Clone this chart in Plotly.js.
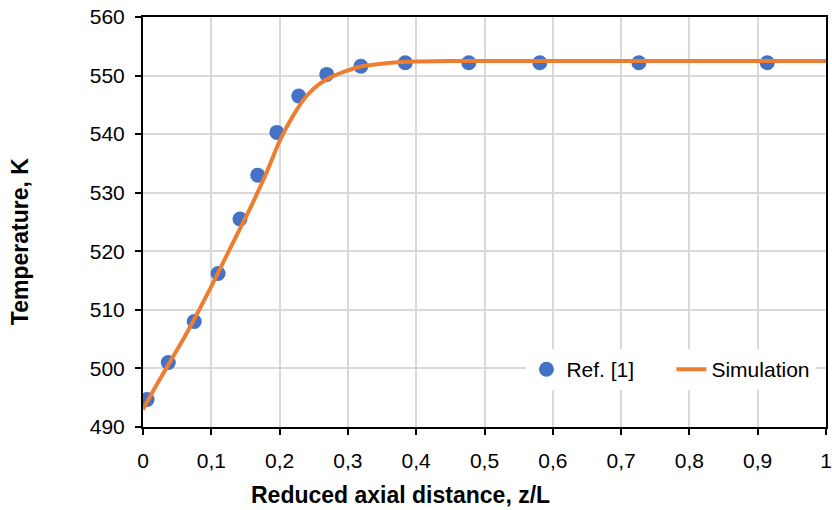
<!DOCTYPE html>
<html><head><meta charset="utf-8">
<script src="https://cdn.plot.ly/plotly-3.0.1.min.js"></script>
<style>html,body{margin:0;padding:0;background:#fff;}#chart{width:832px;height:510px;}</style>
</head><body><div id="chart"></div>
<script>
const refX = [0.006, 0.037, 0.075, 0.110, 0.142, 0.168, 0.196, 0.228, 0.269, 0.319, 0.384, 0.477, 0.581, 0.726, 0.914];
const refT = [494.7, 501.0, 508.0, 516.2, 525.5, 533.0, 540.3, 546.5, 550.2, 551.6, 552.2, 552.2, 552.2, 552.2, 552.2];
const simX = [0, 0.02, 0.04, 0.06, 0.08, 0.10, 0.12, 0.14, 0.16, 0.18, 0.20, 0.22, 0.24, 0.26, 0.28, 0.30, 0.32, 0.34, 0.36, 0.38, 0.40, 0.45, 0.50, 0.60, 0.70, 0.80, 0.90, 1.00];
const simT = [493.0, 497.2, 501.2, 505.2, 509.5, 514.0, 518.7, 523.4, 528.1, 533.2, 538.8, 543.2, 546.6, 548.7, 550.0, 550.9, 551.6, 551.9, 552.15, 552.3, 552.4, 552.5, 552.5, 552.5, 552.5, 552.5, 552.5, 552.5];
const xTitle = "Reduced axial distance, z/L";
const yTitle = "Temperature, K";

const traces = [
  {x: refX, y: refT, type: 'scatter', mode: 'markers', name: 'Ref. [1]',
   marker: {color: '#4472C4', size: 15}},
  {x: simX, y: simT, type: 'scatter', mode: 'lines', name: 'Simulation',
   line: {color: '#ED7D31', width: 4, shape: 'spline', smoothing: 0.6}}
];
const fam = 'Liberation Sans, Arial, sans-serif';
const layout = {
  width: 832, height: 510,
  margin: {l: 143, r: 6, t: 17, b: 83},
  paper_bgcolor: '#fff', plot_bgcolor: '#fff',
  separators: ', ',
  font: {family: fam, size: 21, color: '#000'},
  showlegend: true,
  legend: {orientation: 'h', x: 0.5614, y: 0.14, xanchor: 'left', yanchor: 'middle', entrywidth: 100,
           bgcolor: '#fff', font: {family: fam, size: 21, color: '#000'}},
  xaxis: {range: [0, 1], dtick: 0.1, tick0: 0, showline: true, mirror: true, linecolor: '#000', linewidth: 2,
          ticks: 'outside', ticklen: 6, tickwidth: 2, tickcolor: '#000', ticklabelstandoff: 8,
          showgrid: true, gridcolor: '#d9d9d9', gridwidth: 2, zeroline: false,
          tickfont: {family: fam, size: 21, color: '#000'}},
  yaxis: {range: [490, 560], dtick: 10, showline: true, mirror: true, linecolor: '#000', linewidth: 2,
          ticks: 'outside', ticklen: 6, tickwidth: 2, tickcolor: '#000', ticklabelstandoff: 6,
          showgrid: true, gridcolor: '#d9d9d9', gridwidth: 2, zeroline: false,
          tickfont: {family: fam, size: 21, color: '#000'}},
  annotations: [
    {text: xTitle, xref: 'paper', yref: 'paper', x: 0.3777, y: -0.166, xanchor: 'center', yanchor: 'middle',
     showarrow: false, font: {family: fam, size: 23, weight: 'bold', color: '#000'}},
    {text: yTitle, xref: 'paper', yref: 'paper', x: -0.18, y: 0.451, xanchor: 'center', yanchor: 'middle',
     textangle: -90, showarrow: false, font: {family: fam, size: 23, weight: 'bold', color: '#000'}}
  ]
};
Plotly.newPlot('chart', traces, layout, {displayModeBar: false, staticPlot: true});
</script></body></html>
